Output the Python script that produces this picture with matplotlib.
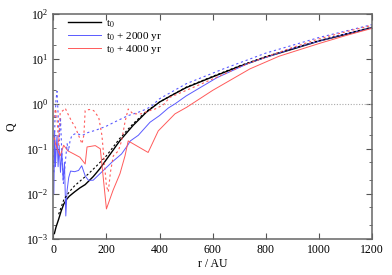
import numpy as np
import matplotlib
matplotlib.use("Agg")
import matplotlib.pyplot as plt
from matplotlib.ticker import LogLocator, FixedLocator

plt.rcParams['font.family'] = ['Liberation Serif', 'DejaVu Serif']
plt.rcParams['mathtext.fontset'] = 'stix'
plt.rcParams['font.size'] = 8.5

# t0 (solid / dashed)
r_k = [4, 10, 20, 30, 40, 50, 60, 80, 100, 120, 150, 175, 200, 250, 300, 350, 400,
       450, 500, 600, 700, 800, 900, 1000, 1100, 1200]
q_k = [0.0013, 0.0018, 0.0027, 0.0042, 0.006, 0.0075, 0.0088, 0.011, 0.0135, 0.016,
       0.024, 0.036, 0.058, 0.15, 0.33, 0.65, 1.1, 1.6, 2.3, 4.0, 6.8, 11, 16.5, 25, 35, 50]
r_kd = [20, 40, 60, 80, 100, 130, 160, 200, 250, 300, 350, 400, 500, 600, 700, 800,
        900, 1000, 1100, 1200]
q_kd = [0.0035, 0.0075, 0.011, 0.015, 0.019, 0.027, 0.04, 0.07, 0.17, 0.36, 0.68, 1.1,
        2.35, 4.1, 7.0, 11.3, 17, 25.5, 36, 51]

# t0 + 2000 yr
r_b = [2, 5, 8, 11, 14, 18, 22, 27, 32, 37, 42, 47, 52, 58, 65, 80, 95, 107, 120, 132,
       150, 170, 195, 220, 257, 280, 290, 320, 364, 400, 433, 458, 500, 615, 740, 900,
       1000, 1100, 1200]
q_b = [0.01, 0.25, 0.04, 0.1, 0.2, 0.04, 0.12, 0.03, 0.09, 0.02, 0.05, 0.0032, 0.012,
       0.023, 0.032, 0.031, 0.033, 0.042, 0.025, 0.02, 0.02, 0.026, 0.036, 0.05, 0.077,
       0.12, 0.15, 0.2, 0.39, 0.55, 0.81, 1.0, 1.5, 3.8, 8.3, 17, 25, 36, 50]
r_bd = [2, 6, 10, 14, 18, 22, 27, 32, 38, 45, 52, 57, 63, 70, 85, 110, 130, 160, 200,
        240, 282, 320, 351, 370, 400, 500, 640, 800, 1000, 1200]
q_bd = [0.03, 0.4, 1.2, 1.9, 0.6, 0.15, 0.5, 0.08, 0.017, 0.05, 0.13, 0.09, 0.15, 0.2,
        0.22, 0.2, 0.23, 0.26, 0.32, 0.42, 0.55, 0.65, 0.77, 0.9, 1.3, 2.8, 6.0, 13.5,
        30, 58]

# t0 + 4000 yr
r_r = [2, 8, 15, 26, 39, 55, 77, 100, 120, 127, 158, 177, 200, 225, 251, 270, 282, 357,
       395, 458, 502, 600, 740, 850, 1000, 1100, 1200]
q_r = [0.2, 0.13, 0.1, 0.07, 0.12, 0.09, 0.077, 0.065, 0.046, 0.11, 0.118, 0.1, 0.0046,
       0.012, 0.028, 0.07, 0.15, 0.083, 0.25, 0.6, 0.84, 2.0, 6.0, 11.5, 22, 33, 48]
r_rd = [3, 8, 14, 20, 26, 35, 45, 58, 70, 83, 95, 108, 115, 120, 135, 152, 171, 183,
        192, 200, 207, 215, 226, 245, 257, 270, 282, 300, 330, 364, 383, 414, 439, 552,
        740, 900, 1000, 1100, 1200]
q_rd = [0.5, 0.77, 0.5, 0.12, 0.65, 0.7, 0.8, 0.55, 0.4, 0.3, 0.2, 0.13, 0.2, 0.71,
        0.75, 0.71, 0.5, 0.2, 0.05, 0.015, 0.011, 0.03, 0.07, 0.09, 0.15, 0.4, 0.77,
        0.6, 0.6, 0.71, 0.77, 0.95, 1.4, 2.7, 8.2, 18, 28, 40, 56]

blue = '#5a5aff'
red = '#ff5a5a'

fig = plt.figure(figsize=(3.92, 2.75), dpi=100)
ax = fig.add_axes([0.136, 0.132, 0.813, 0.817])

ax.axhline(1.0, color='#aaaaaa', lw=0.8, ls=(0, (1, 1.5)))
ax.plot(r_k, q_k, color='black', lw=1.0, label='t$_0$')
ax.plot(r_b, q_b, color=blue, lw=0.7, label='t$_0$ + 2000 yr')
ax.plot(r_r, q_r, color=red, lw=0.7, label='t$_0$ + 4000 yr')
ax.plot(r_kd, q_kd, color='black', lw=0.8, ls=(0, (2, 2)))
ax.plot(r_bd, q_bd, color=blue, lw=0.8, ls=(0, (2, 2.5)))
ax.plot(r_rd, q_rd, color=red, lw=0.8, ls=(0, (2, 2.5)))

ax.set_yscale('log')
ax.set_xlim(0, 1200)
ax.set_ylim(1e-3, 1e2)
ax.xaxis.set_major_locator(FixedLocator([0, 200, 400, 600, 800, 1000, 1200]))
ax.yaxis.set_major_locator(LogLocator(base=10, numticks=10))
ax.yaxis.set_minor_locator(LogLocator(base=10, subs=(2, 5), numticks=10))
ax.yaxis.set_minor_formatter(plt.NullFormatter())
ax.tick_params(which='both', direction='in', top=True, right=True, color='#555555')
ax.tick_params(which='major', length=4, width=0.8)
ax.tick_params(which='minor', length=2.5, width=0.6)
for s in ax.spines.values():
    s.set_color('#666666')
    s.set_linewidth(1.1)

ax.set_xlabel('r / AU', labelpad=2)
ax.set_ylabel('Q', labelpad=6)
ax.legend(loc='upper left', bbox_to_anchor=(0.035, 0.998), frameon=False,
          fontsize=8, handlelength=2.9, handletextpad=0.5,
          labelspacing=0.0, borderaxespad=0.0, borderpad=0.35)

fig.savefig('out.png', dpi=100)
